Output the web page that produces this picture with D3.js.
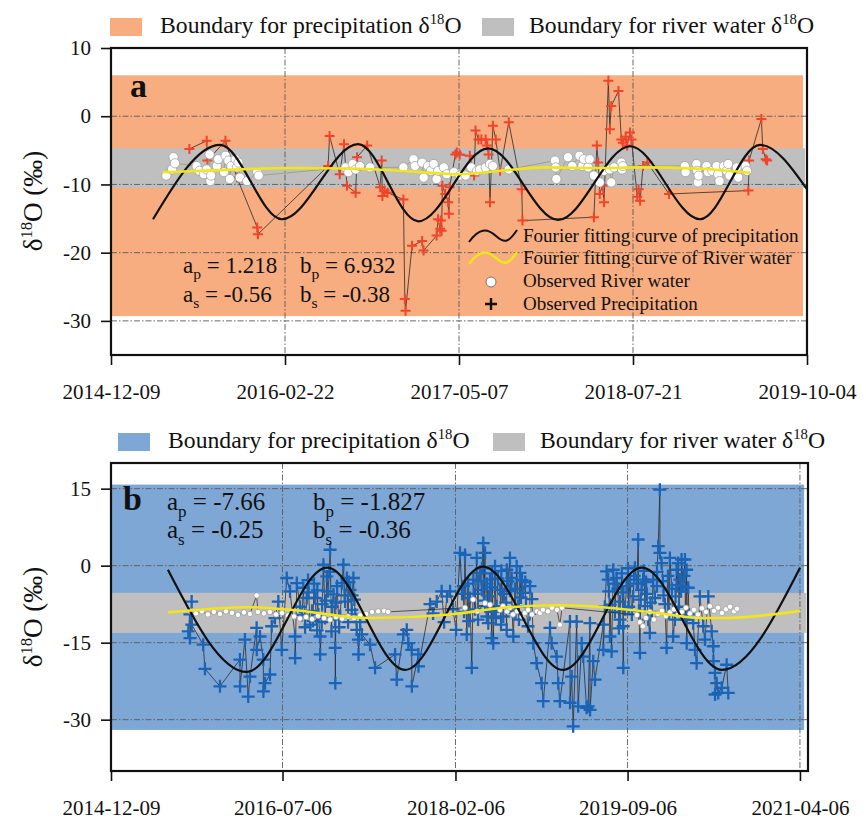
<!DOCTYPE html>
<html>
<head>
<meta charset="utf-8">
<script src="https://cdn.jsdelivr.net/npm/d3@7"></script>
<style>
  body { margin: 0; background: #fff; }
  svg { display: block; font-family: "Liberation Serif", "Times New Roman", serif; }
</style>
</head>
<body>
<div id="chart"></div>
<script>
// ---------- data: [decimal year, d18O permil] ----------

// panel a
const aTicksX = ["2014-12-09", "2016-02-22", "2017-05-07", "2018-07-21", "2019-10-04"];
const aDomainX = ["2014-12-09", "2019-10-04"];
const aTicksY = [10, 0, -10, -20, -30];
const aDomainY = [-35, 10];
const aBandEnd = "2019-09-24";
const aPrecipBand = [-29.3, 6.0];
const aRiverBand = [-10.5, -4.7];
const aParams = [["a", "p", "1.218"], ["b", "p", "6.932"], ["a", "s", "-0.56"], ["b", "s", "-0.38"]];

const aPrecip = [
  [2015.48, -4.8], [2015.60, -3.6], [2015.605, -6.5], [2015.73, -3.6], [2015.81, -9.0],
  [2015.95, -16.3], [2015.955, -17.3], [2016.44, -7.3], [2016.45, -2.9], [2016.52, -8.5],
  [2016.55, -4.1], [2016.57, -10.2], [2016.63, -11.2], [2016.64, -6.0], [2016.71, -4.3],
  [2016.80, -10.4], [2016.81, -6.5], [2016.815, -11.7], [2016.83, -10.9], [2016.85, -11.2],
  [2016.96, -12.2], [2016.97, -26.8], [2016.975, -28.5], [2017.02, -19.0], [2017.09, -18.3],
  [2017.10, -19.7], [2017.19, -17.5], [2017.20, -15.1], [2017.215, -16.5], [2017.22, -15.3],
  [2017.225, -16.8], [2017.23, -10.2], [2017.25, -11.4], [2017.27, -12.6], [2017.275, -14.3],
  [2017.28, -10.4], [2017.32, -5.6], [2017.33, -5.3], [2017.35, -5.6], [2017.42, -5.8],
  [2017.45, -8.7], [2017.46, -2.1], [2017.48, -3.4], [2017.50, -3.4], [2017.53, -3.4],
  [2017.54, -4.3], [2017.55, -5.6], [2017.56, -12.6], [2017.58, -1.4], [2017.60, -3.4],
  [2017.63, -8.0], [2017.69, -0.9], [2017.78, -10.7], [2017.785, -15.3], [2018.28, -14.8],
  [2018.30, -4.3], [2018.31, -6.8], [2018.32, -11.4], [2018.34, -10.2], [2018.35, -12.6],
  [2018.38, 5.2], [2018.39, -1.9], [2018.40, 1.5], [2018.45, 3.7], [2018.47, -3.4],
  [2018.48, -3.9], [2018.50, -3.0], [2018.51, -4.3], [2018.53, -2.4], [2018.54, -3.4],
  [2018.58, -11.8], [2018.59, -10.7], [2018.60, -12.4], [2018.62, -7.3], [2018.65, -6.8],
  [2018.80, -11.4], [2019.35, -10.9], [2019.355, -6.5], [2019.44, -0.4], [2019.45, -4.8],
  [2019.47, -6.3], [2019.48, -6.5]
];

const aRiver = [
  [2015.32, -8.7], [2015.36, -7.8], [2015.37, -6.0], [2015.38, -6.9], [2015.53, -7.3],
  [2015.55, -8.0], [2015.58, -8.5], [2015.60, -7.8], [2015.62, -5.6], [2015.625, -9.5],
  [2015.63, -8.7], [2015.67, -7.3], [2015.68, -6.3], [2015.72, -8.2], [2015.73, -5.8],
  [2015.75, -6.5], [2015.76, -9.2], [2015.77, -7.3], [2015.80, -6.3], [2015.81, -7.5],
  [2015.82, -6.8], [2015.83, -9.0], [2015.88, -9.5], [2015.95, -8.2], [2015.96, -8.7],
  [2016.56, -7.5], [2016.58, -8.2], [2016.61, -7.0], [2016.63, -7.8], [2016.66, -7.3],
  [2016.73, -7.5], [2016.96, -7.5], [2017.03, -6.3], [2017.04, -7.3], [2017.09, -6.8],
  [2017.10, -9.0], [2017.13, -7.3], [2017.15, -8.0], [2017.17, -7.0], [2017.19, -9.2],
  [2017.20, -8.0], [2017.24, -7.5], [2017.26, -8.5], [2017.31, -8.2], [2017.35, -8.7],
  [2017.39, -8.7], [2017.43, -7.5], [2017.47, -8.0], [2017.49, -7.8], [2017.53, -7.5],
  [2017.56, -7.0], [2017.58, -7.3], [2017.69, -7.8], [2018.01, -6.5], [2018.015, -7.5],
  [2018.02, -9.2], [2018.10, -6.0], [2018.13, -7.3], [2018.18, -5.8], [2018.20, -7.3],
  [2018.21, -6.3], [2018.24, -7.5], [2018.25, -6.3], [2018.28, -8.7], [2018.32, -9.7],
  [2018.35, -8.0], [2018.39, -7.8], [2018.40, -9.7], [2018.42, -7.5], [2018.47, -6.8],
  [2018.475, -7.8], [2018.48, -7.3], [2018.91, -7.3], [2018.915, -8.2], [2018.99, -7.0],
  [2018.995, -8.0], [2019.00, -9.7], [2019.005, -8.7], [2019.06, -7.3], [2019.07, -8.2],
  [2019.10, -8.0], [2019.13, -7.3], [2019.14, -8.5], [2019.15, -9.5], [2019.18, -7.3],
  [2019.20, -8.0], [2019.21, -7.0], [2019.22, -8.7], [2019.27, -7.5], [2019.28, -9.0],
  [2019.33, -7.3], [2019.34, -8.0]
];

const aFitPrecip = [
  [2015.228, -15.1], [2015.692, -4.2], [2016.121, -15.1], [2016.647, -4.1], [2017.063, -15.4],
  [2017.547, -4.7], [2018.032, -15.2], [2018.531, -4.4], [2019.015, -15.1], [2019.431, -4.2],
  [2019.756, -10.7]
];

const aFitRiver = [
  [2015.297, -8.2], [2015.69, -7.9], [2016.18, -7.6], [2016.65, -7.7], [2017.08, -8.2],
  [2017.35, -8.5], [2017.63, -8.0], [2017.94, -7.5], [2018.32, -7.6], [2018.60, -7.5],
  [2019.02, -7.7], [2019.36, -8.3]
];

// panel b
const bTicksX = ["2014-12-09", "2016-07-06", "2018-02-06", "2019-09-06", "2021-04-06"];
const bDomainX = ["2014-12-09", "2021-05-03"];
const bTicksY = [15, 0, -15, -30];
const bDomainY = [-40, 20];
const bBandEnd = "2021-04-20";
const bPrecipBand = [-32.0, 15.8];
const bRiverBand = [-13.1, -5.3];
const bParams = [["a", "p", "-7.66"], ["b", "p", "-1.827"], ["a", "s", "-0.25"], ["b", "s", "-0.36"]];

const bPrecip = [
  [2015.647, -12.8], [2015.662, -9.5], [2015.663, -14.1], [2015.678, -7.0], [2015.679, -11.5],
  [2015.784, -15.4], [2015.800, -20.1], [2015.938, -23.5], [2016.121, -18.3], [2016.122, -23.5],
  [2016.167, -14.4], [2016.197, -25.5], [2016.213, -21.6], [2016.274, -12.1], [2016.275, -16.4],
  [2016.305, -13.8], [2016.335, -18.3], [2016.336, -24.5], [2016.351, -22.9], [2016.396, -21.2],
  [2016.412, -11.8], [2016.442, -10.2], [2016.473, -7.0], [2016.504, -16.4], [2016.550, -2.4],
  [2016.580, -5.0], [2016.626, -13.8], [2016.627, -18.0], [2016.642, -3.4], [2016.672, -8.0],
  [2016.702, -4.3], [2016.718, -12.0], [2016.733, -6.3], [2016.745, -2.8], [2016.764, -11.5],
  [2016.782, -8.8], [2016.800, -3.5], [2016.810, -6.3], [2016.828, -12.6], [2016.840, -9.5],
  [2016.855, -13.8], [2016.856, -17.3], [2016.874, -7.5], [2016.886, 0.2], [2016.901, -10.2],
  [2016.917, -2.1], [2016.929, -5.0], [2016.947, 3.1], [2016.966, -8.0], [2016.978, -5.6],
  [2016.993, -10.5], [2016.994, -16.0], [2016.995, -22.9], [2017.011, -4.0], [2017.030, -12.0],
  [2017.055, -3.4], [2017.069, 0.2], [2017.085, -7.0], [2017.101, -2.4], [2017.112, -11.0],
  [2017.131, -4.7], [2017.146, -8.6], [2017.149, -5.8], [2017.161, -2.4], [2017.177, -9.5],
  [2017.192, -12.5], [2017.207, -14.4], [2017.208, -17.3], [2017.223, -11.0], [2017.238, -13.4],
  [2017.314, -15.4], [2017.360, -19.9], [2017.544, -17.3], [2017.559, -22.2], [2017.620, -13.4],
  [2017.651, -12.5], [2017.666, -15.1], [2017.697, -16.4], [2017.698, -23.5], [2017.758, -17.3],
  [2017.759, -19.6], [2017.865, -7.5], [2017.893, -9.3], [2017.927, -7.0], [2017.972, -5.0],
  [2017.994, -11.0], [2018.021, -6.0], [2018.049, -5.0], [2018.076, -8.5], [2018.104, -12.5],
  [2018.140, 2.5], [2018.159, -5.5], [2018.177, -9.0], [2018.186, 2.1], [2018.202, -13.4],
  [2018.214, -3.5], [2018.232, -6.3], [2018.248, -19.9], [2018.263, -2.7], [2018.278, -8.5],
  [2018.294, 1.5], [2018.306, -10.5], [2018.324, -1.4], [2018.340, -4.7], [2018.342, -0.5],
  [2018.354, 4.4], [2018.370, 2.5], [2018.371, -7.9], [2018.386, -9.9], [2018.388, -3.5],
  [2018.400, -11.2], [2018.407, -6.0], [2018.416, -2.7], [2018.431, -14.1], [2018.434, -1.5],
  [2018.446, -15.1], [2018.453, -9.0], [2018.462, -0.1], [2018.477, -7.9], [2018.489, -2.5],
  [2018.508, -4.7], [2018.517, -11.5], [2018.538, -9.9], [2018.544, -5.5], [2018.569, -12.5],
  [2018.570, -0.8], [2018.581, -3.0], [2018.599, 1.5], [2018.615, -2.4], [2018.618, -8.8],
  [2018.630, -13.8], [2018.645, -4.5], [2018.661, -0.1], [2018.676, -7.9], [2018.682, -10.5],
  [2018.691, -1.4], [2018.710, -2.8], [2018.722, -5.3], [2018.746, -8.0], [2018.765, -11.8],
  [2018.783, -4.0], [2018.801, -6.5], [2018.813, -15.1], [2018.844, -19.0], [2018.890, -22.9],
  [2018.905, -26.4], [2018.967, -12.1], [2018.982, -15.1], [2019.028, -17.7], [2019.043, -22.9],
  [2019.058, -26.4], [2019.150, -10.9], [2019.151, -26.7], [2019.166, -21.6], [2019.180, -31.3],
  [2019.212, -10.9], [2019.226, -27.4], [2019.258, -15.1], [2019.272, -17.7], [2019.303, -27.7],
  [2019.318, -27.4], [2019.334, -11.2], [2019.335, -28.1], [2019.364, -18.6], [2019.380, -22.2],
  [2019.456, -11.5], [2019.457, -16.4], [2019.471, -8.0], [2019.487, -1.1], [2019.502, -2.7],
  [2019.508, -5.0], [2019.517, -13.8], [2019.533, -16.7], [2019.548, -0.8], [2019.563, -9.0],
  [2019.579, -2.4], [2019.591, -4.5], [2019.609, -7.0], [2019.610, -10.5], [2019.627, -1.5],
  [2019.639, -11.8], [2019.640, -19.9], [2019.655, -8.5], [2019.671, -4.0], [2019.683, -0.5],
  [2019.701, -2.7], [2019.719, -9.5], [2019.731, -6.0], [2019.747, -0.4], [2019.765, -3.5],
  [2019.777, 5.1], [2019.784, -8.8], [2019.793, -17.0], [2019.808, -4.7], [2019.823, -2.7],
  [2019.829, -1.0], [2019.839, -7.9], [2019.857, -5.5], [2019.869, -10.5], [2019.884, -13.1],
  [2019.903, -9.0], [2019.915, -2.7], [2019.930, -6.3], [2019.949, -4.0], [2019.961, 3.8],
  [2019.976, 14.8], [2019.977, 2.5], [2019.992, 0.5], [2020.004, -3.0], [2020.022, -7.5],
  [2020.038, -16.0], [2020.050, -2.0], [2020.068, 1.5], [2020.086, -4.5], [2020.098, -13.8],
  [2020.114, -10.5], [2020.130, -0.8], [2020.132, -3.8], [2020.144, 0.5], [2020.151, -8.0],
  [2020.160, -2.7], [2020.175, 1.2], [2020.190, -4.0], [2020.197, -2.0], [2020.206, 1.2],
  [2020.221, -0.8], [2020.222, -15.1], [2020.236, -4.3], [2020.243, -9.5], [2020.282, -11.2],
  [2020.298, -16.4], [2020.313, -19.0], [2020.343, -6.0], [2020.374, -11.8], [2020.389, -14.4],
  [2020.420, -6.0], [2020.451, -12.8], [2020.466, -15.7], [2020.467, -18.6], [2020.481, -20.9],
  [2020.482, -25.1], [2020.497, -22.9], [2020.511, -24.8], [2020.543, -23.8], [2020.588, -19.3],
  [2020.603, -24.8],
  // denser parts of the three wet-season clusters
  [2016.69, -9.6], [2016.75, -5.2], [2016.79, -10.8], [2016.83, -4.8], [2016.87, -11.0],
  [2016.91, -6.8], [2016.94, -1.2], [2016.96, -12.8], [2017.00, -7.2], [2017.04, -9.8],
  [2017.08, -5.8], [2017.12, -3.2], [2017.17, -6.6],
  [2018.17, -4.0], [2018.22, -10.8], [2018.27, -5.5], [2018.31, -3.0], [2018.36, -6.8],
  [2018.42, -4.2], [2018.47, -10.2], [2018.52, -1.0], [2018.56, -7.2], [2018.60, -4.9],
  [2018.65, -9.2], [2018.70, -6.2], [2018.74, -3.2], [2018.78, -9.4],
  [2019.52, -7.6], [2019.56, -3.5], [2019.60, -12.2], [2019.64, -5.2], [2019.69, -8.0],
  [2019.74, -2.0], [2019.80, -6.6], [2019.85, -3.2], [2019.89, -7.2], [2019.95, -1.2],
  [2020.01, -5.8], [2020.06, -9.2], [2020.12, -6.0], [2020.17, -5.0], [2020.21, -10.5]
];

const bRiver = [
  [2015.662, -8.8], [2015.717, -9.3], [2015.772, -8.9], [2015.827, -9.5], [2015.882, -9.0],
  [2015.938, -9.4], [2015.993, -8.9], [2016.048, -9.2], [2016.103, -9.6], [2016.158, -9.1],
  [2016.213, -9.4], [2016.274, -5.8], [2016.286, -9.0], [2016.341, -9.3], [2016.396, -9.0],
  [2016.452, -9.5], [2016.507, -9.2], [2016.562, -9.7], [2016.617, -9.9], [2016.672, -10.3],
  [2016.727, -10.0], [2016.782, -10.4], [2016.837, -9.8], [2016.892, -10.2], [2016.947, -10.5],
  [2017.002, -10.0], [2017.057, -10.3], [2017.112, -9.9], [2017.167, -10.2], [2017.223, -9.7],
  [2017.278, -9.4], [2017.333, -9.0], [2017.388, -8.9], [2017.443, -8.8], [2017.480, -9.0],
  [2018.186, -8.2], [2018.260, -6.6], [2018.297, -8.9], [2018.370, -7.3], [2018.416, -7.6],
  [2018.508, -8.6], [2018.535, -7.9], [2018.572, -8.9], [2018.599, -8.2], [2018.627, -9.5],
  [2018.664, -8.9], [2018.710, -9.9], [2018.737, -9.2], [2018.765, -8.6], [2018.801, -9.5],
  [2018.847, -8.9], [2018.875, -9.2], [2018.902, -8.6], [2018.948, -8.9], [2018.985, -8.2],
  [2019.031, -8.6], [2019.058, -11.5], [2019.077, -8.2],
  [2019.765, -9.6], [2019.793, -11.0], [2019.820, -11.8], [2019.848, -10.2], [2019.884, -9.0],
  [2019.921, -10.5], [2019.958, -9.4], [2019.995, -8.8], [2020.031, -9.8], [2020.068, -9.1],
  [2020.105, -8.5], [2020.141, -9.6], [2020.178, -9.0], [2020.215, -8.2], [2020.252, -9.3],
  [2020.288, -8.6], [2020.325, -9.5], [2020.362, -8.3], [2020.399, -9.0], [2020.435, -7.9],
  [2020.472, -8.8], [2020.509, -8.2], [2020.545, -9.2], [2020.582, -8.5], [2020.619, -8.0],
  [2020.656, -8.9], [2020.683, -8.4]
];

const bFitPrecip = [
  [2015.46, -0.8], [2016.185, -20.7], [2016.92, -0.4], [2017.636, -20.3], [2018.352, -0.2],
  [2019.086, -20.3], [2019.811, -0.4], [2020.545, -20.3], [2021.261, -0.4]
];

const bFitRiver = [
  [2015.463, -9.1], [2016.213, -8.1], [2016.58, -8.6], [2017.314, -10.2], [2018.049, -9.5],
  [2018.535, -8.2], [2019.031, -7.7], [2019.334, -7.9], [2019.949, -9.2], [2020.343, -10.2],
  [2020.555, -10.2], [2021.261, -8.8]
];

const legendTexts = [
  "Fourier fitting curve of precipitation",
  "Fourier fitting curve of River water",
  "Observed River water",
  "Observed Precipitation"
];

// ---------- helpers ----------
const parseDate = d3.utcParse("%Y-%m-%d");
const formatDate = d3.utcFormat("%Y-%m-%d");

function yearToDate(t) {
  const y = Math.floor(t);
  const s = Date.UTC(y, 0, 1);
  const e = Date.UTC(y + 1, 0, 1);
  return new Date(s + (t - y) * (e - s));
}

function deltaText(sel, size) {
  sel.append("tspan").text("δ");
  sel.append("tspan").attr("dy", -size * 0.36).style("font-size", size * 0.62 + "px").text("18");
  sel.append("tspan").attr("dy", size * 0.36).text("O");
}

function paramText(g, x, y, p, size) {
  const t = g.append("text").attr("x", x).attr("y", y).style("font-size", size + "px");
  t.append("tspan").text(p[0]);
  t.append("tspan").attr("dy", size * 0.28).style("font-size", size * 0.68 + "px").text(p[1]);
  t.append("tspan").attr("dy", -size * 0.28).text(" = " + p[2]);
}

const crossPath = (s) => `M${-s},0H${s}M0,${-s}V${s}`;

const svg = d3
  .select("#chart")
  .append("svg")
  .attr("width", 866)
  .attr("height", 822);

// ---------- panel ----------
function drawPanel(o) {
  const dims = o.dims;
  const g = svg.append("g").attr("transform", `translate(${dims.left},${dims.top})`);

  const xScale = d3.scaleUtc().domain(o.domainX.map(parseDate)).range([0, dims.width]);
  const yScale = d3.scaleLinear().domain(o.domainY).range([dims.height, 0]);
  const xAcc = (d) => xScale(yearToDate(d[0]));
  const yAcc = (d) => yScale(d[1]);
  const bandW = xScale(parseDate(o.bandEnd));

  // bands
  g.append("rect")
    .attr("x", 0).attr("width", bandW)
    .attr("y", yScale(o.precipBand[1]))
    .attr("height", yScale(o.precipBand[0]) - yScale(o.precipBand[1]))
    .attr("fill", o.bandColor);
  g.append("rect")
    .attr("x", 0).attr("width", bandW + 2)
    .attr("y", yScale(o.riverBand[1]))
    .attr("height", yScale(o.riverBand[0]) - yScale(o.riverBand[1]))
    .attr("fill", "#bfbfbf");

  // grid (dash-dot)
  const grid = g.append("g").attr("stroke", "#5a5a5a").attr("stroke-width", 0.9)
    .attr("stroke-dasharray", "6,2,1.5,2");
  grid.selectAll(".h").data(o.ticksY).join("line")
    .attr("x1", 0).attr("x2", dims.width)
    .attr("y1", (d) => yScale(d)).attr("y2", (d) => yScale(d));
  grid.selectAll(".v").data(o.ticksX.slice(1)).join("line")
    .attr("x1", (d) => xScale(parseDate(d))).attr("x2", (d) => xScale(parseDate(d)))
    .attr("y1", 0).attr("y2", dims.height);

  // precipitation observations
  const precip = d3.sort(o.precip, (d) => d[0]);
  g.append("path").datum(precip)
    .attr("fill", "none").attr("stroke", "#2a2a2a").attr("stroke-width", 0.8)
    .attr("d", d3.line().x(xAcc).y(yAcc));
  g.append("g").selectAll("path").data(precip).join("path")
    .attr("transform", (d) => `translate(${xAcc(d)},${yAcc(d)})`)
    .attr("d", crossPath(o.crossSize))
    .attr("stroke", o.crossColor).attr("stroke-width", o.crossWidth);

  // river observations
  const river = d3.sort(o.river, (d) => d[0]);
  g.append("path").datum(river)
    .attr("fill", "none").attr("stroke", o.riverLine).attr("stroke-width", 0.8)
    .attr("d", d3.line().x(xAcc).y(yAcc));
  g.append("g").selectAll("circle").data(river).join("circle")
    .attr("cx", xAcc).attr("cy", yAcc).attr("r", o.circleR)
    .attr("fill", "#fff").attr("stroke", "#999").attr("stroke-width", 0.7);

  // fitted curves
  g.append("path").datum(o.fitPrecip)
    .attr("fill", "none").attr("stroke", "#111").attr("stroke-width", 2.2)
    .attr("d", d3.line().x(xAcc).y(yAcc).curve(d3.curveMonotoneX));
  g.append("path").datum(o.fitRiver)
    .attr("fill", "none").attr("stroke", "#f1e51c").attr("stroke-width", 2.6)
    .attr("d", d3.line().x(xAcc).y(yAcc).curve(d3.curveMonotoneX));

  // axes
  const xAxis = g.append("g")
    .attr("transform", `translate(0,${dims.height})`)
    .call(d3.axisBottom(xScale)
      .tickValues(o.ticksX.map(parseDate))
      .tickFormat(formatDate)
      .tickSize(10).tickPadding(19).tickSizeOuter(0));
  const yAxis = g.append("g")
    .call(d3.axisLeft(yScale).tickValues(o.ticksY).tickFormat((d) => String(d))
      .tickSize(10).tickPadding(10).tickSizeOuter(0));
  [xAxis, yAxis].forEach((ax) => {
    ax.attr("font-family", null).attr("font-size", null);
    ax.select(".domain").remove();
    ax.selectAll("line").attr("stroke", "#111").attr("stroke-width", 1.6);
    ax.selectAll("text").style("font-size", "21px").attr("fill", "#111");
  });

  // frame
  g.append("rect").attr("width", dims.width).attr("height", dims.height)
    .attr("fill", "none").attr("stroke", "#111").attr("stroke-width", 2.2);

  // y title
  const yt = svg.append("text")
    .attr("transform", `translate(${o.yTitle[0]},${o.yTitle[1]}) rotate(-90)`)
    .attr("text-anchor", "middle")
    .style("font-size", "27px").attr("fill", "#111");
  deltaText(yt, 27);
  yt.append("tspan").text(" (‰)");

  // top legend
  const leg = svg.append("g").style("font-size", "23.7px").attr("fill", "#111");
  leg.append("rect").attr("x", o.legend[0]).attr("y", o.legend[1]).attr("width", 32).attr("height", 18)
    .attr("fill", o.bandColor);
  const l1 = leg.append("text").attr("x", o.legend[0] + 50).attr("y", o.legend[1] + 15);
  l1.append("tspan").text("Boundary for precipitation ");
  deltaText(l1, 23.7);
  leg.append("rect").attr("x", o.legend[2]).attr("y", o.legend[1]).attr("width", 32).attr("height", 18)
    .attr("fill", "#bfbfbf");
  const l2 = leg.append("text").attr("x", o.legend[2] + 47).attr("y", o.legend[1] + 15);
  l2.append("tspan").text("Boundary for river water ");
  deltaText(l2, 23.7);

  // panel letter and parameters
  g.append("text").attr("x", o.letterPos[0]).attr("y", o.letterPos[1])
    .style("font-size", "34px").style("font-weight", "bold").attr("fill", "#111").text(o.letter);
  const pg = g.append("g").attr("fill", "#111");
  paramText(pg, o.paramPos[0], o.paramPos[1], o.params[0], o.paramSize);
  paramText(pg, o.paramPos[2], o.paramPos[1], o.params[1], o.paramSize);
  paramText(pg, o.paramPos[0], o.paramPos[1] + o.paramPos[3], o.params[2], o.paramSize);
  paramText(pg, o.paramPos[2], o.paramPos[1] + o.paramPos[3], o.params[3], o.paramSize);

  return g;
}

const gA = drawPanel({
  dims: { left: 111, top: 48, width: 696, height: 307 },
  domainX: aDomainX, domainY: aDomainY, ticksX: aTicksX, ticksY: aTicksY,
  bandEnd: aBandEnd, precipBand: aPrecipBand, riverBand: aRiverBand,
  bandColor: "#f7ad80",
  precip: aPrecip, river: aRiver, fitPrecip: aFitPrecip, fitRiver: aFitRiver,
  crossColor: "#f0452b", crossSize: 5, crossWidth: 2, circleR: 4.6, riverLine: "#9a9a70",
  yTitle: [42, 201], legend: [110, 18, 482],
  letter: "a", letterPos: [19, 49],
  params: aParams, paramPos: [72, 225, 189, 29], paramSize: 23
});

drawPanel({
  dims: { left: 111, top: 463, width: 697, height: 308 },
  domainX: bDomainX, domainY: bDomainY, ticksX: bTicksX, ticksY: bTicksY,
  bandEnd: bBandEnd, precipBand: bPrecipBand, riverBand: bRiverBand,
  bandColor: "#7ea7d6",
  precip: bPrecip, river: bRiver, fitPrecip: bFitPrecip, fitRiver: bFitRiver,
  crossColor: "#1b64b5", crossSize: 6.5, crossWidth: 2.3, circleR: 2.7, riverLine: "#333",
  yTitle: [42, 617], legend: [118, 433, 493],
  letter: "b", letterPos: [12, 47],
  params: bParams, paramPos: [56, 47, 202, 28], paramSize: 25
});

// legend inside panel a
const lg = gA.append("g").attr("fill", "#111");
const rowY = [194, 216, 239, 262];
const wave = (y0) => `M358,${y0 + 6}C368,${y0 - 8} 376,${y0 - 8} 385,${y0}S398,${y0 + 6} 406,${y0 - 6}`;
lg.append("path").attr("d", wave(rowY[0] - 6)).attr("fill", "none").attr("stroke", "#111").attr("stroke-width", 2);
lg.append("path").attr("d", wave(rowY[1] - 6)).attr("fill", "none").attr("stroke", "#f1e51c").attr("stroke-width", 2.4);
lg.append("circle").attr("cx", 380).attr("cy", rowY[2] - 5).attr("r", 5)
  .attr("fill", "#fff").attr("stroke", "#777").attr("stroke-width", 1);
lg.append("path").attr("transform", `translate(380,${rowY[3] - 6})`).attr("d", crossPath(6))
  .attr("stroke", "#111").attr("stroke-width", 2.4);
lg.selectAll("text").data(legendTexts).join("text")
  .attr("x", 412).attr("y", (d, i) => rowY[i])
  .style("font-size", "19px")
  .text((d) => d);
</script>
</body>
</html>
